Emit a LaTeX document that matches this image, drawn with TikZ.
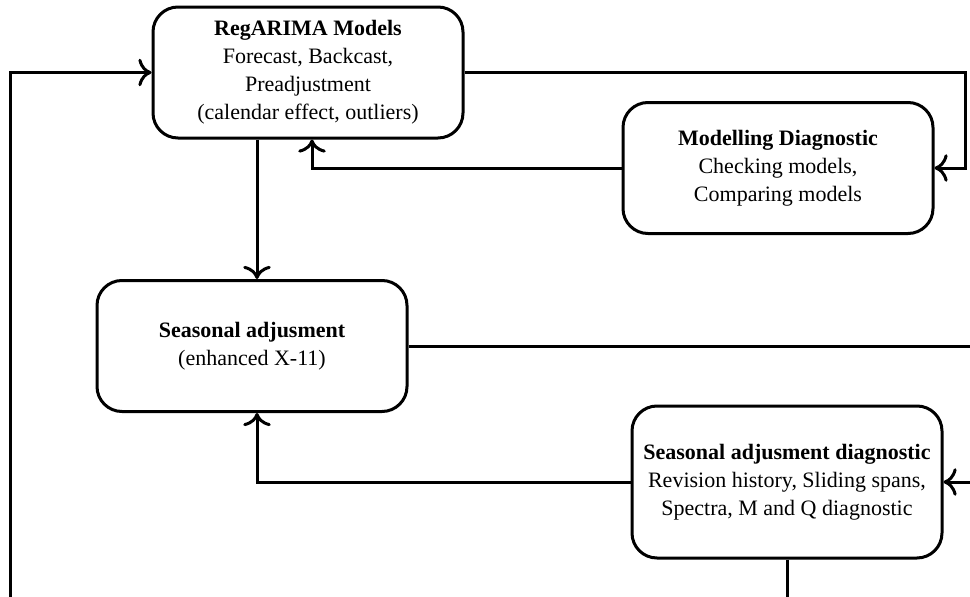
\documentclass[tikz,border=0pt]{standalone}
\usepackage{fontspec}
\setmainfont{Liberation Serif}
\usetikzlibrary{arrows.meta}

\tikzset{
	stage/.style={draw,line width=3pt,rounded corners=25pt,align=center,
		minimum width=310pt,minimum height=131pt,
		font=\fontsize{22}{28}\selectfont},
	flow/.style={line width=3pt,-{Computer Modern Rightarrow[scale=1.6]}}
}

\begin{document}
\begin{tikzpicture}[x=1pt,y=-1pt]
		\useasboundingbox (0,0) rectangle (970,597);
		% boxes
		\node[stage] (reg) at (308,72.5) {\textbf{RegARIMA Models}\\Forecast, Backcast,\\Preadjustment\\(calendar effect, outliers)\vphantom{g}};
		\node[stage] (mdiag) at (778,168) {\textbf{Modelling Diagnostic}\\Checking models,\\Comparing models};
		\node[stage] (sadj) at (252,346) {\textbf{Seasonal adjusment}\\(enhanced X-11)};
		\node[stage,minimum height=152pt] (sdiag) at (787,482) {\textbf{Seasonal adjusment diagnostic}\\Revision history, Sliding spans,\\Spectra, M and Q diagnostic};
		% bends outside the page
		\coordinate (rtop) at (965,120);
		\coordinate (rlow) at (975,400);
		\coordinate (bot) at (10,615);
		% connectors
		\draw[flow] (reg.east) -| (rtop) |- (mdiag.east);
		\draw[flow] (mdiag.west) -| ([xshift=4pt]reg.south);
		\draw[flow] ([xshift=5pt]sadj.north |- reg.south) -- ([xshift=5pt]sadj.north);
		\draw[flow] (sadj.east) -| (rlow) |- (sdiag.east);
		\draw[flow] (sdiag.west) -| ([xshift=5pt]sadj.south);
		\draw[flow] (sdiag.south) |- (bot) |- (reg.west);
	\end{tikzpicture}
\end{document}
